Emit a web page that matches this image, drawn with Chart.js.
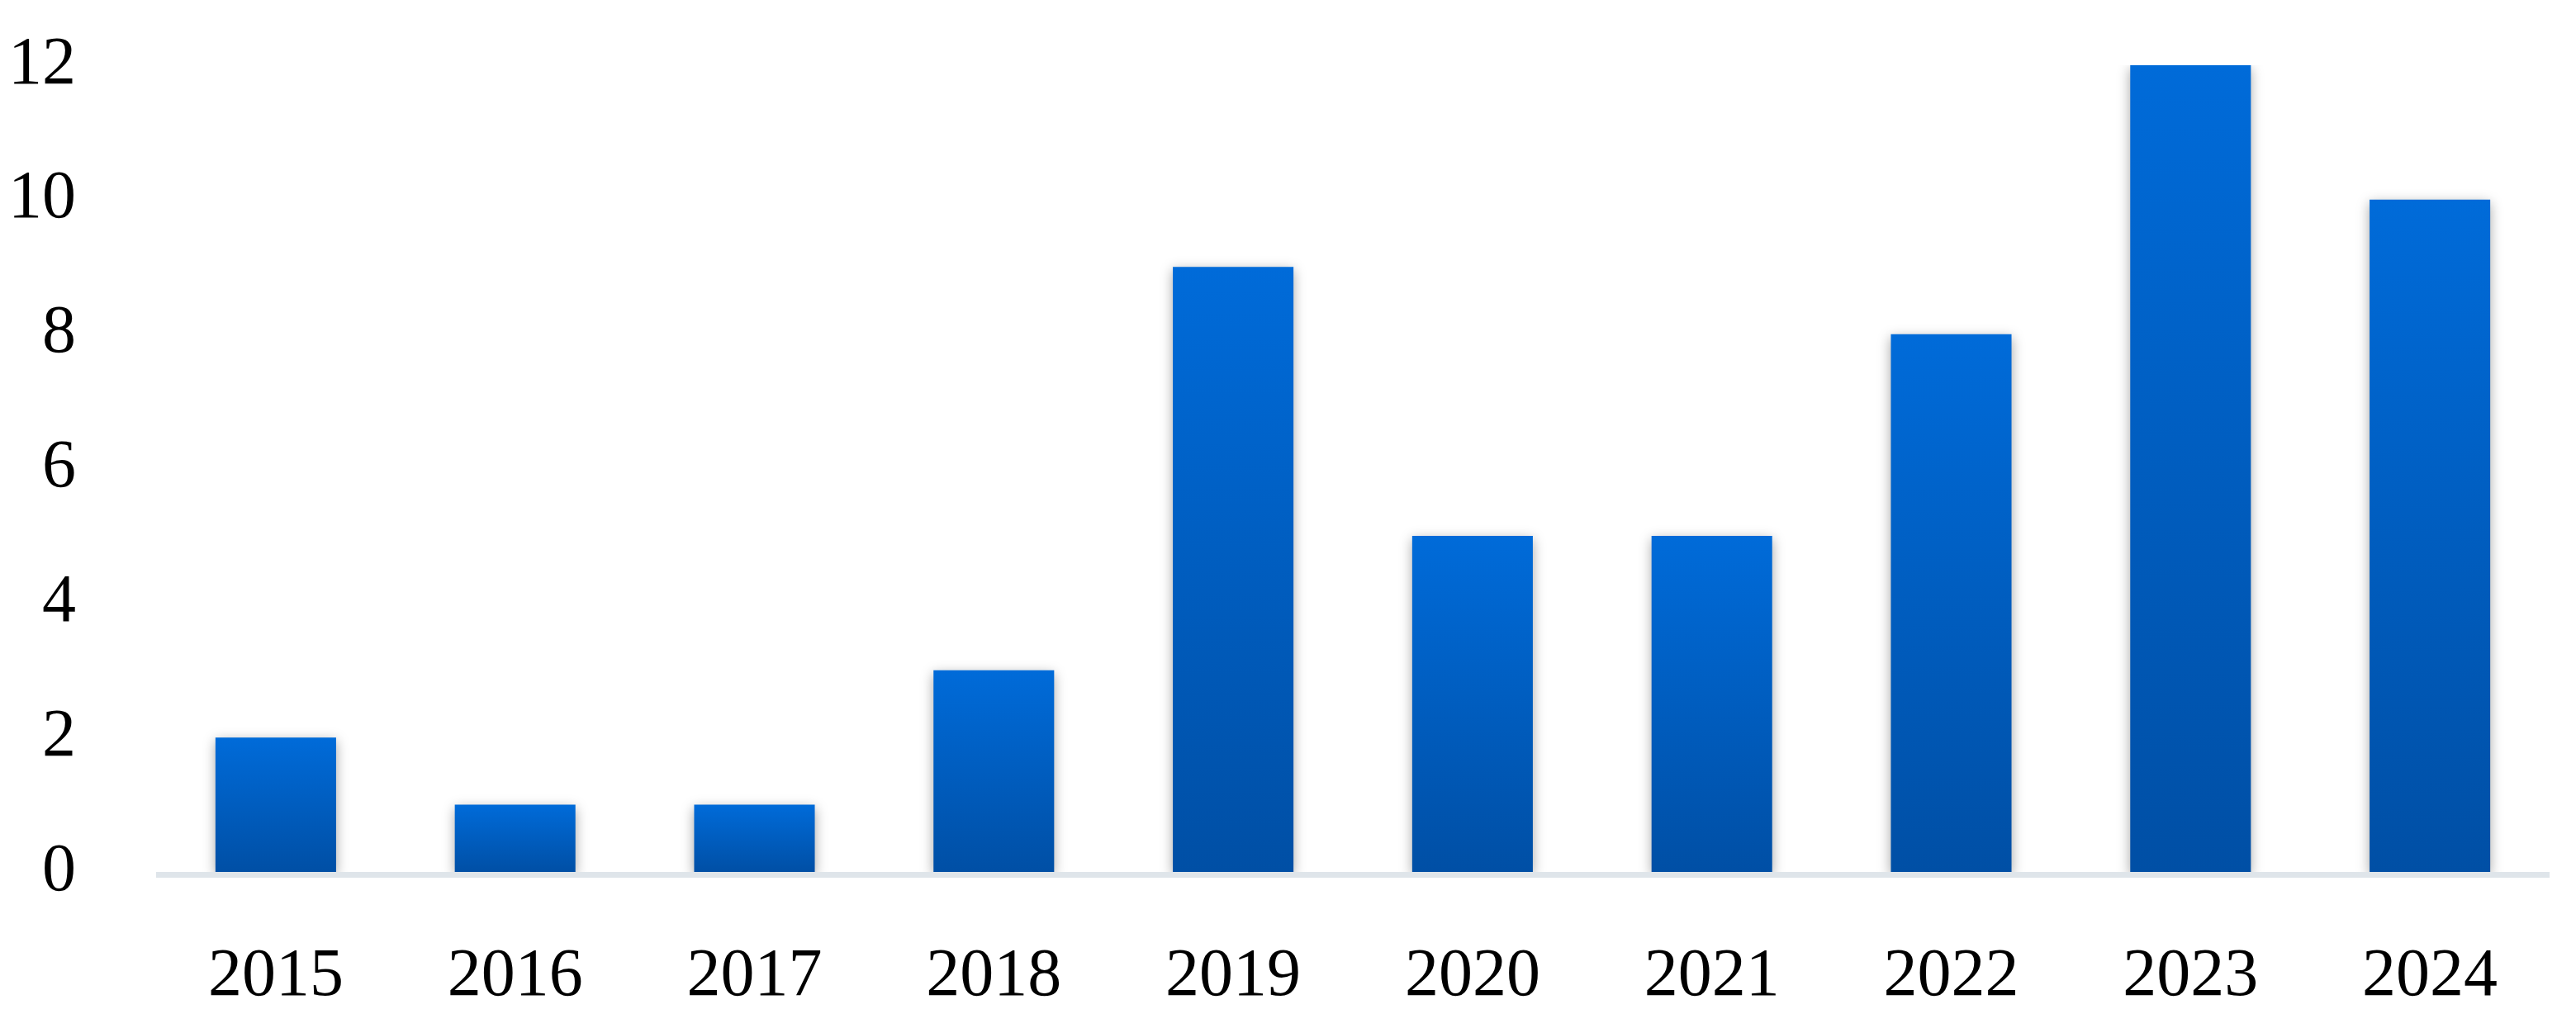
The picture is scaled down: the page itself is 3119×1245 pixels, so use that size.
<!DOCTYPE html>
<html>
<head>
<meta charset="utf-8">
<script src="https://cdn.jsdelivr.net/npm/chart.js@4.4.1/dist/chart.umd.min.js"></script>
<style>
  html, body { margin: 0; padding: 0; background: #fff; }
  #wrap { width: 3119px; height: 1245px; }
</style>
</head>
<body>
<div id="wrap"><canvas id="myChart" width="3119" height="1245"></canvas></div>
<script>
const years = ["2015", "2016", "2017", "2018", "2019", "2020", "2021", "2022", "2023", "2024"];
const counts = [2, 1, 1, 3, 9, 5, 5, 8, 12, 10];
const yTicks = [0, 2, 4, 6, 8, 10, 12];

// gradient per bar, light blue at top, darker at the base
function barFill(context) {
  const chart = context.chart;
  const area = chart.chartArea;
  if (!area || context.raw === undefined) return '#0066cc';
  const yScale = chart.scales.y;
  const top = yScale.getPixelForValue(context.raw);
  const g = chart.ctx.createLinearGradient(0, top, 0, area.bottom);
  g.addColorStop(0, '#006bd9');
  g.addColorStop(1, '#004fa5');
  return g;
}

// soft grey shadow behind the bars + thick pale axis line
const barShadow = {
  id: 'barShadow',
  beforeDatasetsDraw(chart) {
    const ctx = chart.ctx;
    ctx.save();
    ctx.shadowColor = 'rgba(0,0,0,0.35)';
    ctx.shadowBlur = 14;
    ctx.shadowOffsetX = 0;
    ctx.shadowOffsetY = 4;
  },
  afterDatasetsDraw(chart) {
    chart.ctx.restore();
    const ctx = chart.ctx;
    const a = chart.chartArea;
    ctx.save();
    ctx.fillStyle = '#dfe5ea';
    ctx.fillRect(a.left, a.bottom, a.right - a.left, 7);
    ctx.restore();
  }
};

new Chart(document.getElementById('myChart'), {
  type: 'bar',
  data: {
    labels: years,
    datasets: [{
      data: counts,
      backgroundColor: barFill,
      borderWidth: 0,
      categoryPercentage: 1.0,
      barPercentage: 0.504
    }]
  },
  options: {
    responsive: false,
    animation: false,
    devicePixelRatio: 1,
    layout: { padding: { top: 79, right: 32, bottom: 0, left: 0 } },
    plugins: { legend: { display: false }, tooltip: { enabled: false } },
    scales: {
      x: {
        grid: { display: false },
        border: { display: false },
        ticks: {
          color: '#000',
          padding: 70,
          font: { family: '"Liberation Serif", serif', size: 82 }
        },
        afterFit(s) { s.height = 189; s.paddingLeft = 0; s.paddingRight = 0; }
      },
      y: {
        min: 0,
        max: 12,
        afterBuildTicks(s) { s.ticks = yTicks.map(v => ({ value: v })); },
        grid: { display: false },
        border: { display: false },
        ticks: {
          color: '#000',
          padding: 89,
          font: { family: '"Liberation Serif", serif', size: 82 }
        },
        afterFit(s) { s.width = 189; s.paddingTop = 0; s.paddingBottom = 0; }
      }
    }
  },
  plugins: [barShadow]
});
</script>
</body>
</html>
